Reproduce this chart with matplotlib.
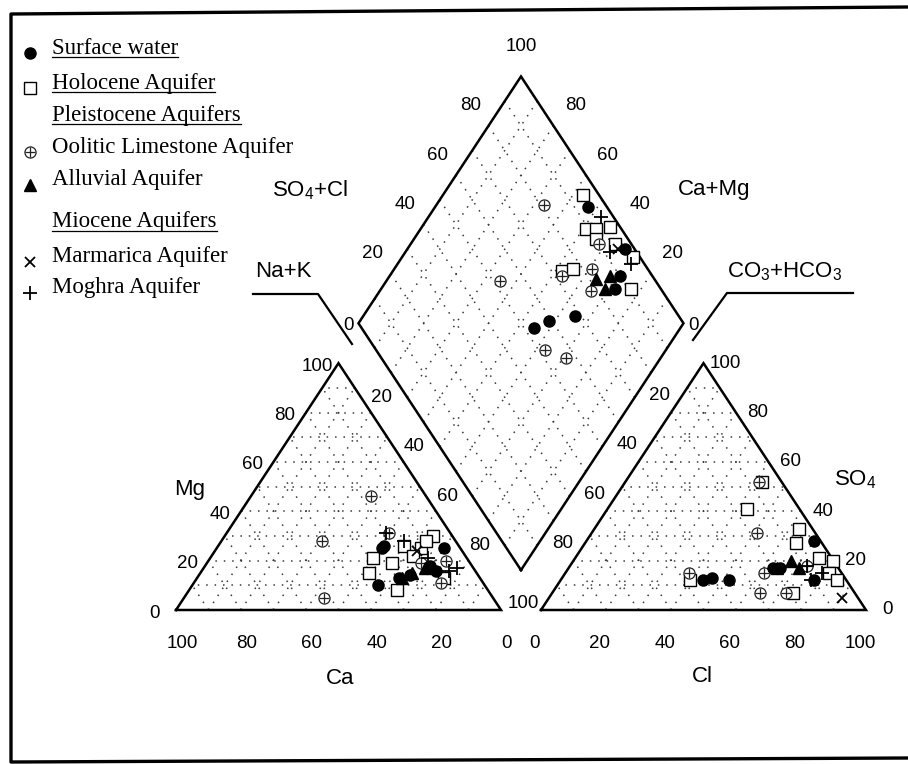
import numpy as np
import matplotlib.pyplot as plt
from matplotlib.lines import Line2D

plt.rcParams["font.family"] = ["Liberation Sans", "DejaVu Sans"]
plt.rcParams["mathtext.fontset"] = "custom"
plt.rcParams["mathtext.rm"] = "Liberation Sans"

W, HGT = 908, 764
H = np.sqrt(3) / 2
GAP = 0.123   # gap between the two triangles (side = 1)
LIFT = 0.14   # height of diamond's lower vertex above the bases

# ---- data (percent) -------------------------------------------------------
# cation triangle: (Ca, Mg); anion triangle: (Cl, SO4); diamond: (SO4+Cl, Ca+Mg)
surface_cat = [(24, 25), (33, 10), (25, 13), (21, 14), (12, 16), (5, 25), (13, 18), (23, 26)]
surface_an = [(44, 12), (46, 13), (52, 12), (63, 17), (65, 17), (70, 28), (78, 12)]
surface_dia = [(53, 45), (59, 42), (68, 35), (86, 28), (90, 29), (97, 33), (94, 53)]

holocene_cat = [(6, 30), (29, 21), (33, 15), (28, 8), (17, 26), (12, 25), (11, 13),
                (24, 19), (16, 22), (9, 28)]
holocene_an = [(42, 52), (43, 41), (63, 33), (65, 27), (75, 21), (80, 20), (81, 15),
               (85, 12), (40, 12), (74, 7)]
holocene_dia = [(95, 57), (89, 49), (92, 46), (97, 42), (95, 37), (91, 23), (73, 48),
                (77, 45), (90, 44), (98, 29)]

oolitic_cat = [(17, 46), (41, 28), (52, 5), (19, 31), (15, 19), (7, 20), (13, 11)]
oolitic_an = [(41, 52), (51, 31), (38, 15), (61, 15), (64, 7), (72, 7), (73, 18)]
oolitic_dia = [(81, 67), (52, 65), (52, 37), (57, 29), (78, 35), (83, 39), (72, 47), (90, 42)]

alluvial_cat = [(24, 13), (20, 15), (15, 17)]
alluvial_an = [(67, 20), (71, 17), (64, 17)]
alluvial_dia = [(82, 36), (83, 31), (87, 32)]

marmarica_cat = [(14, 24)]
marmarica_an = [(90, 5)]
marmarica_dia = [(95, 35)]

moghra_cat = [(20, 31), (5, 17), (12, 21), (16, 28), (8, 16)]
moghra_an = [(73, 18), (79, 15), (77, 12)]
moghra_dia = [(92, 37), (96, 28), (96, 47)]

tick_values = [0, 20, 40, 60, 80, 100]
legend_rows = [
    ("Surface water", "circle", True),
    ("Holocene Aquifer", "square", True),
    ("Pleistocene Aquifers", None, True),
    ("Oolitic Limestone Aquifer", "oplus", False),
    ("Alluvial Aquifer", "triangle", False),
    ("Miocene Aquifers", None, True),
    ("Marmarica Aquifer", "x", False),
    ("Moghra Aquifer", "plus", False),
]
legend_y = [48, 83, 115, 147, 180, 222, 257, 288]


def cation_xy(pts):
    p = np.asarray(pts, float) / 100
    ca, mg = p[:, 0], p[:, 1]
    return 1 - ca - mg / 2, mg * H


def anion_xy(pts):
    p = np.asarray(pts, float) / 100
    cl, so4 = p[:, 0], p[:, 1]
    return 1 + GAP + cl + so4 / 2, so4 * H


def diamond_xy(pts):
    p = np.asarray(pts, float) / 100
    a, c = p[:, 0], p[:, 1]
    return 1 + GAP / 2 + (a - c) / 2, LIFT + (a + c) * H


def fpx(x, y):
    return x / W, 1 - y / HGT


def draw(target, kind, x, y, ms=8):
    if kind == "circle":
        target.plot(x, y, "o", ms=ms, color="black", zorder=4, ls="none")
    elif kind == "square":
        target.plot(x, y, "s", ms=ms, mfc="white", mec="black", mew=1.0, zorder=3, ls="none")
    elif kind == "oplus":
        target.plot(x, y, "o", ms=ms, mfc="white", mec="#222", mew=0.9, zorder=3, ls="none")
        target.plot(x, y, "+", ms=ms * 0.9, color="#222", mew=0.9, zorder=3, ls="none")
    elif kind == "triangle":
        target.plot(x, y, "^", ms=ms, color="black", zorder=4, ls="none")
    elif kind == "x":
        target.plot(x, y, "x", ms=ms * 0.9, color="black", mew=1.3, zorder=4, ls="none")
    elif kind == "plus":
        target.plot(x, y, "+", ms=ms * 1.3, color="black", mew=1.3, zorder=4, ls="none")


fig = plt.figure(figsize=(W / 100, HGT / 100), dpi=100)
ax = fig.add_axes([0, 0, 1, 1])
ax.set_xlim(-176 / 325, (W - 176) / 325)
ax.set_ylim(-(HGT - 610) / 285, 610 / 285)
ax.axis("off")

grid_kw = dict(color="#3a3a3a", lw=1.1, linestyle=(0, (1, 4.5)), zorder=1)
frame_kw = dict(color="black", lw=1.8, zorder=2, solid_joinstyle="miter")

# ---- frames and grids -----------------------------------------------------
tri_corners = {cation_xy: [(100, 0), (0, 0), (0, 100), (100, 0)],
               anion_xy: [(0, 0), (100, 0), (0, 100), (0, 0)]}
for conv, corners in tri_corners.items():
    fx, fy = conv(corners)
    ax.plot(fx, fy, **frame_kw)
    for v in range(10, 100, 10):
        w = 100 - v
        for seg in ([(0, v), (w, v)], [(v, 0), (v, w)], [(v, 0), (0, v)]):
            gx, gy = conv(seg)
            ax.plot(gx, gy, **grid_kw)

dx, dy = diamond_xy([(0, 0), (100, 0), (100, 100), (0, 100), (0, 0)])
ax.plot(dx, dy, **frame_kw)
for v in range(10, 100, 10):
    for seg in ([(v, 0), (v, 100)], [(0, v), (100, v)]):
        gx, gy = diamond_xy(seg)
        ax.plot(gx, gy, **grid_kw)

# ---- samples --------------------------------------------------------------
groups = [
    ("square", holocene_cat, holocene_an, holocene_dia),
    ("oplus", oolitic_cat, oolitic_an, oolitic_dia),
    ("plus", moghra_cat, moghra_an, moghra_dia),
    ("x", marmarica_cat, marmarica_an, marmarica_dia),
    ("triangle", alluvial_cat, alluvial_an, alluvial_dia),
    ("circle", surface_cat, surface_an, surface_dia),
]
for kind, cat, an, dia in groups:
    draw(ax, kind, *cation_xy(cat))
    draw(ax, kind, *anion_xy(an))
    draw(ax, kind, *diamond_xy(dia))

# ---- tick labels ----------------------------------------------------------
tick_kw = dict(textcoords="offset pixels", ha="center", va="center", fontsize=13.5)


def label(conv, pts, off, skip=()):
    xs, ys = conv(pts)
    for v, x, y in zip(tick_values, xs, ys):
        if v in skip:
            continue
        ax.annotate(str(v), (x, y), xytext=off, **tick_kw)


label(cation_xy, [(100 - v, v) for v in tick_values], (-21, -3))                # Mg
label(cation_xy, [(0, 100 - v) for v in tick_values], (11, 15), skip=(0, 100))  # Na+K
label(cation_xy, [(v, 0) for v in tick_values], (6, -33))                       # Ca
label(anion_xy, [(v, 0) for v in tick_values], (-6, -33))                       # Cl
label(anion_xy, [(100 - v, v) for v in tick_values], (22, 0))                   # SO4
label(anion_xy, [(0, 100 - v) for v in tick_values], (-11, 17), skip=(0, 100))  # CO3+HCO3
label(diamond_xy, [(v, 100) for v in tick_values], (-18, 20), skip=(0, 100))    # SO4+Cl
label(diamond_xy, [(100, v) for v in tick_values], (22, 20), skip=(0, 100))     # Ca+Mg
bx, by = cation_xy([(0, 0)])
ax.annotate("100", (bx[0], by[0]), xytext=(22, 6), **tick_kw)
lx, ly = diamond_xy([(0, 100), (100, 100), (100, 0)])
ax.annotate("0", (lx[0], ly[0]), xytext=(-10, -2), **tick_kw)
ax.annotate("100", (lx[1], ly[1]), xytext=(0, 30), **tick_kw)
ax.annotate("0", (lx[2], ly[2]), xytext=(10, -2), **tick_kw)

# ---- axis titles and connectors --------------------------------------------
title_kw = dict(transform=fig.transFigure, ha="center", va="center", fontsize=16)
fig.text(*fpx(310, 190), r"SO$_\mathregular{4}$+Cl", **title_kw)
fig.text(*fpx(714, 190), "Ca+Mg", **title_kw)
fig.text(*fpx(283, 272), "Na+K", **title_kw)
fig.text(*fpx(785, 272), r"CO$_\mathregular{3}$+HCO$_\mathregular{3}$", **title_kw)
fig.text(*fpx(190, 490), "Mg", **title_kw)
fig.text(*fpx(855, 480), r"SO$_\mathregular{4}$", **title_kw)
fig.text(*fpx(340, 678), "Ca", **title_kw)
fig.text(*fpx(702, 676), "Cl", **title_kw)

for path in ([(253, 294), (318, 294), (352, 344)], [(693, 340), (727, 293), (853, 293)]):
    px, py = zip(*[fpx(*p) for p in path])
    fig.add_artist(Line2D(px, py, color="black", lw=1.6))

# ---- outer border ---------------------------------------------------------
border = [(908, 7), (11, 14), (11, 762), (908, 758)]
bxs, bys = zip(*[fpx(*p) for p in border])
fig.add_artist(Line2D(bxs, bys, color="black", lw=2.4))

# ---- legend ---------------------------------------------------------------
lax = fig.add_axes([0, 0, 1, 1], facecolor="none")
lax.set_xlim(0, 1)
lax.set_ylim(0, 1)
lax.axis("off")
renderer = fig.canvas.get_renderer()
for (text, kind, underline), y in zip(legend_rows, legend_y):
    t = fig.text(*fpx(52, y), text, family="Liberation Serif", fontsize=16.5,
                 ha="left", va="center")
    if kind:
        mx, my = fpx(30, y + 5)
        draw(lax, kind, [mx], [my], ms=8)
    if underline:
        bb = t.get_window_extent(renderer)
        uy = 1 - (y + 9) / HGT
        fig.add_artist(Line2D([bb.x0 / W, bb.x1 / W], [uy, uy], color="black", lw=0.9))

fig.savefig("out.png", dpi=100)
